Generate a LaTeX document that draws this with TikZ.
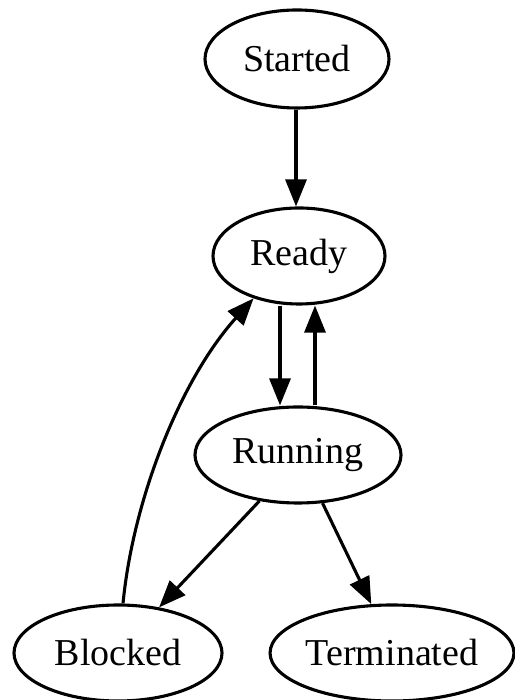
\documentclass[tikz,border=0pt]{standalone}
\usepackage{fontspec}
\setmainfont{Liberation Serif}
\usetikzlibrary{shapes.geometric,arrows.meta}
\begin{document}
\begin{tikzpicture}[x=1pt,y=1pt,
  state/.style={ellipse,draw,line width=3.1pt,inner sep=0pt,minimum height=96pt,
    font=\fontsize{38}{40}\selectfont},
  edge/.style={line width=3.1pt,-{Triangle[length=27pt,width=21pt]}}]
\useasboundingbox (0,0) rectangle (514,700);
\fill[white] (0,0) rectangle (514,700);

\node[state,minimum width=184pt,minimum height=98pt] (started) at (297,641) {Started};
\node[state,minimum width=172pt] (ready) at (299,444) {Ready};
\node[state,minimum width=206pt] (running) at (298,245) {Running};
\node[state,minimum width=208pt] (blocked) at (118,47) {Blocked};
\node[state,minimum width=242pt] (terminated) at (392,47) {Terminated};

\draw[edge] ([xshift=-1pt]started.south) -- ([xshift=-3pt]ready.north);
\draw[edge] ([xshift=-19pt]ready.south) -- ([xshift=-18pt]running.north);
\draw[edge] ([xshift=17pt]running.north) -- ([xshift=16pt]ready.south);
\draw[edge] (running.230) -- (blocked.48);
\draw[edge] (running.297) -- (terminated.113);
\draw[edge] ([xshift=5pt]blocked.north) .. controls (133,200) and (180,320) .. (ready.223);
\end{tikzpicture}
\end{document}
